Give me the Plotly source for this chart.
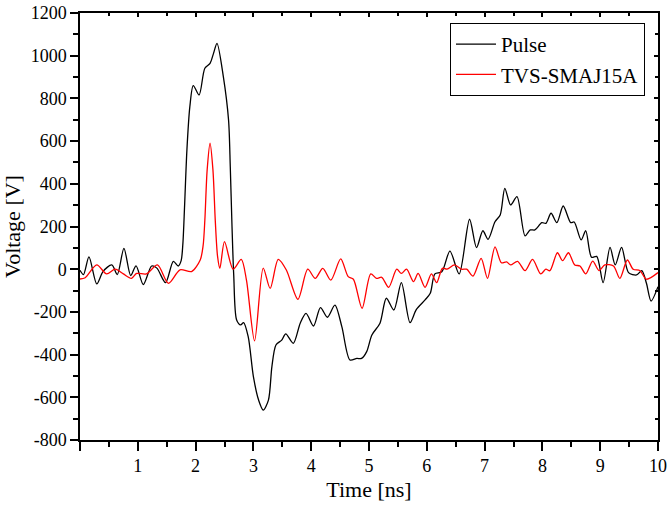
import plotly.graph_objects as go

# ---- data ----
pulse_t = [0.00, 0.06, 0.155, 0.29, 0.40, 0.55, 0.645, 0.76, 0.877, 0.97, 1.095, 1.24, 1.33, 1.48,
           1.615, 1.70, 1.75, 1.78, 1.81, 1.85, 1.90, 1.96, 2.06, 2.16, 2.25, 2.31, 2.37, 2.48, 2.57,
           2.60, 2.63, 2.66, 2.71, 2.78, 2.83, 2.91, 3.00, 3.09, 3.17, 3.26, 3.32, 3.39, 3.49, 3.56,
           3.69, 3.81, 3.91, 4.04, 4.16, 4.28, 4.41, 4.53, 4.67, 4.79, 4.87, 4.96, 5.05, 5.19, 5.30,
           5.43, 5.56, 5.71, 5.82, 5.97, 6.06, 6.14, 6.26, 6.40, 6.56, 6.74, 6.86, 6.97, 7.06, 7.18,
           7.27, 7.35, 7.45, 7.56, 7.70, 7.79, 7.87, 7.99, 8.06, 8.15, 8.25, 8.36, 8.49, 8.55, 8.67,
           8.75, 8.85, 8.94, 9.05, 9.17, 9.26, 9.37, 9.49, 9.63, 9.72, 9.80, 9.88, 10.0]
pulse_v = [-5, -25, 58, -69, -10, 20, -25, 98, -30, 16, -72, 15, 5, -63,
           37, 15, 40, 120, 300, 560, 760, 860, 816, 941, 964, 1011, 1058, 902, 699,
           480, 200, -30, -238, -261, -250, -316, -503, -613, -660, -613, -456, -355, -332, -303,
           -347, -253, -207, -266, -180, -225, -168, -269, -425, -418, -418, -386, -308, -253, -136,
           -191, -63, -250, -188, -144, -113, -22, -12, 85, -22, 234, 101, 180, 140, 222,
           254, 379, 301, 340, 156, 184, 184, 218, 215, 262, 218, 296, 218, 221, 137,
           180, 56, 60, -63, 102, 20, 102, -16, -27, -7, -66, -149, -82]

tvs_t = [0.00, 0.09, 0.29, 0.46, 0.61, 0.75, 0.89, 0.98, 1.15, 1.34, 1.53, 1.73, 1.93, 2.08,
         2.13, 2.16, 2.20, 2.25, 2.30, 2.34, 2.38, 2.42, 2.50, 2.65, 2.79, 2.88, 3.02, 3.17,
         3.29, 3.43, 3.57, 3.77, 3.94, 4.07, 4.20, 4.34, 4.51, 4.64, 4.73, 4.88, 5.03, 5.13,
         5.22, 5.34, 5.48, 5.56, 5.65, 5.77, 5.85, 5.97, 6.08, 6.17, 6.27, 6.35, 6.48, 6.60,
         6.69, 6.80, 6.94, 7.05, 7.18, 7.29, 7.38, 7.45, 7.57, 7.70, 7.83, 7.97, 8.06, 8.13,
         8.26, 8.35, 8.45, 8.56, 8.65, 8.75, 8.87, 8.98, 9.08, 9.23, 9.34, 9.47, 9.57, 9.69,
         9.80, 10.0]
tvs_v = [-46, -40, 20, -22, 0, -22, -43, -20, -22, 20, -66, -3, -11, 43,
         110, 230, 465, 590, 465, 230, 60, 4, 129, 0, 46, -51, -336, 5,
         -90, 46, -4, -141, 0, -43, 4, -51, 48, -35, -47, -183, -22, -43,
         -38, -85, 0, -20, 0, -58, -20, -85, -22, -63, 4, 0, 20, 0,
         0, -32, 51, -43, 105, 30, 34, 20, 37, -7, 46, -22, 0, -7,
         77, 40, 77, 20, 15, -22, 38, -7, 20, 15, -43, 43, 0, -7,
         -47, -16]

x_tickvals = [0, 1, 2, 3, 4, 5, 6, 7, 8, 9, 10]
x_ticktext = ["", "1", "2", "3", "4", "5", "6", "7", "8", "9", "10"]
y_tickvals = [-800, -600, -400, -200, 0, 200, 400, 600, 800, 1000, 1200]
y_ticktext = ["-800", "-600", "-400", "-200", "0", "200", "400", "600", "800", "1000", "1200"]

FONT = "Liberation Serif, Times New Roman, serif"

fig = go.Figure()
fig.add_trace(go.Scatter(x=pulse_t, y=pulse_v, mode="lines", name="Pulse",
                         line=dict(color="black", width=1.3, shape="spline", smoothing=0.8)))
fig.add_trace(go.Scatter(x=tvs_t, y=tvs_v, mode="lines", name="TVS-SMAJ15A",
                         line=dict(color="#ff0000", width=1.3, shape="spline", smoothing=0.8)))
# empty trace to anchor the mirrored top/right axes
fig.add_trace(go.Scatter(x=[], y=[], xaxis="x2", yaxis="y2", showlegend=False, hoverinfo="skip"))

fig.update_layout(
    width=668, height=505,
    margin=dict(l=80, r=10, t=13, b=65, autoexpand=False),
    paper_bgcolor="white", plot_bgcolor="white",
    font=dict(family=FONT, size=18, color="black"),
    showlegend=True,
    legend=dict(x=0.9775, y=0.9766, xanchor="right", yanchor="top",
                bordercolor="black", borderwidth=1, bgcolor="white",
                font=dict(family=FONT, size=21, color="black"),
                tracegroupgap=0, itemwidth=40),
    xaxis=dict(range=[0, 10], tickmode="array", tickvals=x_tickvals, ticktext=x_ticktext,
               automargin=False,
               ticks="outside", ticklen=9, tickwidth=1.5, tickcolor="black",
               showline=True, linecolor="black", linewidth=1.5, showgrid=False, zeroline=False,
               minor=dict(tickmode="linear", tick0=0, dtick=0.5, ticks="outside", ticklen=5,
                          tickwidth=1.5, tickcolor="black", showgrid=False),
               title=dict(text="Time [ns]", font=dict(family=FONT, size=22), standoff=6),
               tickfont=dict(family=FONT, size=18)),
    yaxis=dict(range=[-800, 1200], tickmode="array", tickvals=y_tickvals, ticktext=y_ticktext,
               automargin=False,
               ticks="outside", ticklen=8, tickwidth=1.5, tickcolor="black",
               showline=True, linecolor="black", linewidth=1.5, showgrid=False, zeroline=False,
               minor=dict(tickmode="linear", tick0=0, dtick=100, ticks="outside", ticklen=5,
                          tickwidth=1.5, tickcolor="black", showgrid=False),
               title=dict(text="Voltage [V]", font=dict(family=FONT, size=22), standoff=4),
               tickfont=dict(family=FONT, size=18)),
    xaxis2=dict(range=[0, 10], overlaying="x", side="top", anchor="y2", automargin=False,
                tickmode="array", tickvals=x_tickvals, showticklabels=False,
                ticks="inside", ticklen=4, tickwidth=1.5, tickcolor="black",
                showline=True, linecolor="black", linewidth=1.5, showgrid=False, zeroline=False,
                minor=dict(tickmode="linear", tick0=0, dtick=0.5, ticks="inside", ticklen=3,
                           tickwidth=1.5, tickcolor="black", showgrid=False)),
    yaxis2=dict(range=[-800, 1200], overlaying="y", side="right", anchor="x2", automargin=False,
                tickmode="array", tickvals=y_tickvals, showticklabels=False,
                ticks="inside", ticklen=4, tickwidth=1.5, tickcolor="black",
                showline=True, linecolor="black", linewidth=1.5, showgrid=False, zeroline=False,
                minor=dict(tickmode="linear", tick0=0, dtick=100, ticks="inside", ticklen=3,
                           tickwidth=1.5, tickcolor="black", showgrid=False)),
)

fig.write_html("out.html")
